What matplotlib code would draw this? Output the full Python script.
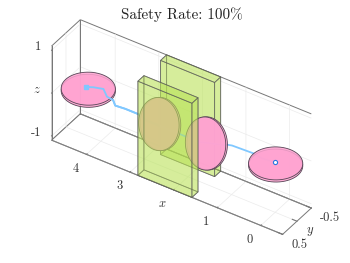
import numpy as np
import matplotlib
matplotlib.use("Agg")
import matplotlib.pyplot as plt
from mpl_toolkits.mplot3d import proj3d
from mpl_toolkits.mplot3d.art3d import Poly3DCollection

plt.rcParams['font.family'] = ['cmr10', 'DejaVu Serif']
plt.rcParams['mathtext.fontset'] = 'cm'
plt.rcParams['axes.formatter.use_mathtext'] = True
plt.rcParams['axes.edgecolor'] = '#777777'
plt.rcParams['axes.linewidth'] = 0.7
plt.rcParams['grid.color'] = '#ebebeb'
plt.rcParams['grid.linewidth'] = 0.5

# trajectory
traj_x = [0.01, 0.31, 0.51, 0.76, 0.99, 1.11, 1.18, 1.54, 1.77, 2.14, 2.75, 2.98, 3.14, 3.44, 3.67, 3.72, 3.86, 3.94, 4.17, 4.33]
traj_y = [0.0] * len(traj_x)
traj_z = [0.065, 0.035, 0.07, 0.06, 0.05, 0.02, -0.02, -0.12, -0.19, -0.18, -0.18, -0.18, -0.11, -0.11, -0.13, -0.02, 0.0, 0.146, 0.09, 0.03]

x_lim = (-0.5, 4.8)
y_lim = (-0.5, 0.5)
z_lim = (-1.1, 1.1)

# walls: x range, y range, z range
wall_x = [1.58, 2.82]
front_wall_y = [0.29, 0.5]
back_wall_y = [-0.5, -0.29]
wall_z = [-1.1, 1.1]

# discs
flat_disc_x = [0.0, 4.3]
flat_disc_z = [0.03, -0.01]
disc_r = 0.52
gate_disc_x = [1.59, 2.66]
gate_disc_z = [-0.14, -0.13]
gate_normal = (0.171, 0.891, 0.423)

x_ticks = [0, 1, 2, 3, 4]
x_labels = ['0', '1', '$x$', '3', '4']
y_ticks = [-0.5, 0, 0.5]
y_labels = ['-0.5', '$y$', '0.5']
z_ticks = [-1, 0, 1]
z_labels = ['-1', '$z$', '1']

pink = '#ffa3d1'
lime = (0.73, 0.89, 0.34, 0.36)
blue = '#80c8ff'
edge = '#777777'
label_color = '#333333'


def box_faces(xr, yr, zr):
    x0, x1 = xr
    y0, y1 = yr
    z0, z1 = zr
    return [
        [(x0, y0, z0), (x1, y0, z0), (x1, y1, z0), (x0, y1, z0)],
        [(x0, y0, z1), (x1, y0, z1), (x1, y1, z1), (x0, y1, z1)],
        [(x0, y0, z0), (x1, y0, z0), (x1, y0, z1), (x0, y0, z1)],
        [(x0, y1, z0), (x1, y1, z0), (x1, y1, z1), (x0, y1, z1)],
        [(x0, y0, z0), (x0, y1, z0), (x0, y1, z1), (x0, y0, z1)],
        [(x1, y0, z0), (x1, y1, z0), (x1, y1, z1), (x1, y0, z1)],
    ]


def add_disc(ax, c, n, r, h, zorder):
    n = np.array(n) / np.linalg.norm(n)
    u = np.cross(n, (1, 0, 0) if abs(n[0]) < 0.9 else (0, 1, 0))
    u = u / np.linalg.norm(u)
    v = np.cross(n, u)
    t = np.linspace(0, 2 * np.pi, 61)
    ring = r * np.outer(np.cos(t), u) + r * np.outer(np.sin(t), v) + np.array(c)
    for part in (ring - n * h / 2, ring + n * h / 2):
        ax.add_collection3d(Poly3DCollection([part], facecolors=matplotlib.colors.to_rgba(pink, 0.85),
                                             edgecolors='#554455', linewidths=0.6, zorder=zorder))


def add_label(ax, x, y, z, s, ha):
    # 2D text at the projected spot
    px, py, _ = proj3d.proj_transform(x, y, z, ax.get_proj())
    ax.text2D(px, py, s, transform=ax.transData, ha=ha, va='center', fontsize=9, color=label_color, zorder=8)


fig = plt.figure(figsize=(3.5, 2.63), dpi=100)
ax = fig.add_axes([28.7 / 350, -16.8 / 263, 297.5 / 350, 297.5 / 263], projection='3d')
ax.computed_zorder = False
ax.set_proj_type('ortho')
ax.set_box_aspect((277.6, 51.7, 119))
ax.view_init(elev=37.7, azim=123.7)
ax.patch.set_alpha(0)

ax.set_xlim(*x_lim)
ax.set_ylim(*y_lim)
ax.set_zlim(*z_lim)
# ticks are real, labels go on by hand because mplot3d can't place them like the reference
ax.set_xticks(x_ticks, [''] * len(x_ticks))
ax.set_yticks(y_ticks, [''] * len(y_ticks))
ax.set_zticks(z_ticks, [''] * len(z_ticks))
ax.tick_params(width=0.5, color=edge)
ax.zaxis.set_ticks_position('upper')

for axis in (ax.xaxis, ax.yaxis, ax.zaxis):
    axis.set_pane_color((1, 1, 1, 1))
    axis.pane.set_edgecolor(edge)
    axis.pane.set_linewidth(0.7)
    axis._axinfo['tick']['inward_factor'] = 0.0
    axis._axinfo['tick']['outward_factor'] = 0.25

# grid lines lie on these edges, draw them again on top
ax.plot(x_lim, (y_lim[0], y_lim[0]), (z_lim[0], z_lim[0]), color=edge, lw=0.7, zorder=1)
ax.plot((x_lim[1], x_lim[1]), (y_lim[0], y_lim[0]), z_lim, color=edge, lw=0.7, zorder=1)
ax.plot((x_lim[1], x_lim[1]), (y_lim[1], y_lim[1]), z_lim, color=edge, lw=0.7, zorder=1)

# back wall, then trajectory, discs, front wall
ax.add_collection3d(Poly3DCollection(box_faces(wall_x, back_wall_y, wall_z), facecolors=lime,
                                     edgecolors=(0.35, 0.35, 0.35, 0.7), linewidths=0.6, zorder=2))
ax.plot(traj_x, traj_y, traj_z, color=blue, lw=1.3, zorder=3)

for x, z in zip(flat_disc_x, flat_disc_z):
    add_disc(ax, (x, 0, z), (0, 0, 1), disc_r, 0.05, 4)
for x, z in zip(gate_disc_x, gate_disc_z):
    add_disc(ax, (x, 0, z), gate_normal, 0.5, 0.05, 4)

ax.plot(traj_x[-8:], traj_y[-8:], traj_z[-8:], color=blue, lw=1.3, zorder=5)
ax.add_collection3d(Poly3DCollection(box_faces(wall_x, front_wall_y, wall_z), facecolors=lime,
                                     edgecolors=(0.35, 0.35, 0.35, 0.7), linewidths=0.6, zorder=6))
ax.plot(traj_x[:1], traj_y[:1], traj_z[:1], 'o', ms=3, mfc='white', mec='#2a78e0', mew=0.8, zorder=7)
ax.plot(traj_x[-1:], traj_y[-1:], traj_z[-1:], 's', ms=2.5, color=blue, zorder=7)

for t, s in zip(x_ticks, x_labels):
    add_label(ax, t, 0.883, -1.193, s, 'center')
for t, s in zip(y_ticks, y_labels):
    add_label(ax, -0.706, t, -1.25, s, 'left')
for t, s in zip(z_ticks, z_labels):
    add_label(ax, 4.8, 0.87, t + 0.295, s, 'right')

fig.text(181.5 / 350, 1 - 19 / 263, 'Safety Rate: 100%', ha='center', va='baseline', fontsize=10.9, color='#222222')

fig.savefig('out.png', dpi=100)
